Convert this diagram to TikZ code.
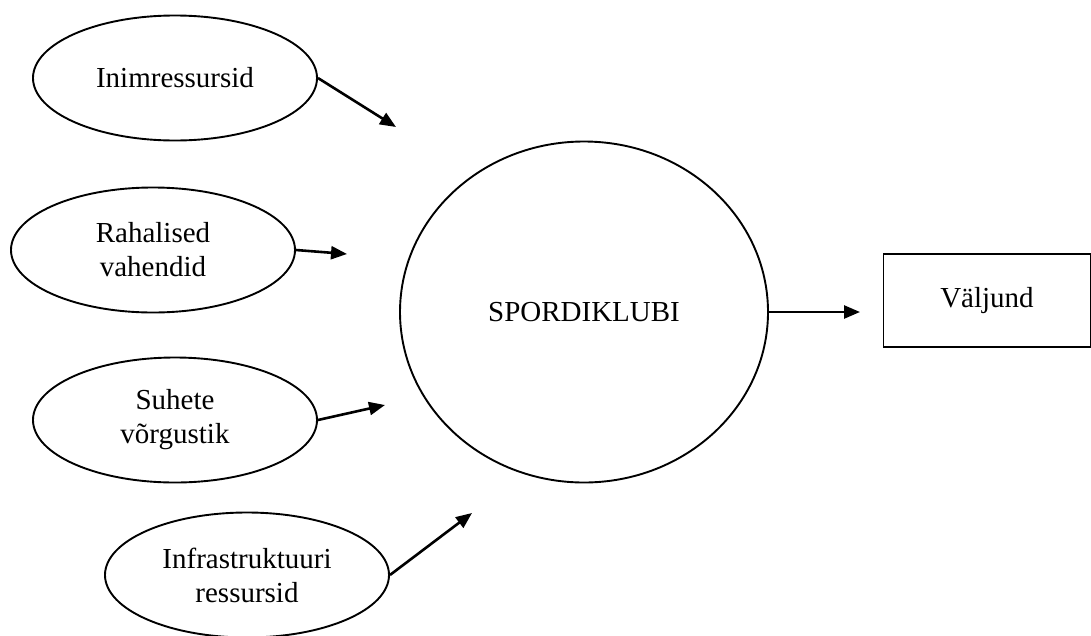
\documentclass[tikz,border=0pt]{standalone}
\usepackage{fontspec}
\setmainfont{Liberation Serif}
\usetikzlibrary{shapes.geometric,arrows.meta}
\begin{document}
\begin{tikzpicture}[x=1pt,y=-1pt,
  every node/.style={font=\fontsize{29}{34}\selectfont, align=center, inner sep=0pt},
  resource/.style={draw, line width=1.9pt, ellipse, minimum width=284pt, minimum height=125pt},
  club/.style={draw, line width=1.9pt, ellipse, minimum width=368pt, minimum height=341pt},
  outbox/.style={draw, line width=1.9pt, rectangle, minimum width=207pt, minimum height=93pt},
  flow/.style={line width=2.6pt, -{Triangle[length=16pt,width=13pt]}}]
\useasboundingbox (0,0) rectangle (1091,635);

% resource ellipses
\node[resource] (e1) at (175,78)  {Inimressursid};
\node[resource] (e2) at (153,250) {Rahalised\\vahendid};
\node[resource] (e3) at (175,420) {Suhete\\võrgustik};
\node[resource] (e4) at (247,575) {Infrastruktuuri\\ressursid};

% the club and its output
\node[club] (club) at (584,312) {SPORDIKLUBI};
\node[outbox] (out) at (987,300.5) {Väljund};

% free arrow ends
\coordinate (t1) at (396,127);
\coordinate (t2) at (347,254);
\coordinate (t3) at (385,405);
\coordinate (t4) at (472,513);
\coordinate (t5) at (860,312);

\draw[flow] (e1.east) -- (t1);
\draw[flow] (e2.east) -- (t2);
\draw[flow] (e3.east) -- (t3);
\draw[flow] (e4.east) -- (t4);
\draw[flow] (club.east) -- (t5);
\end{tikzpicture}
\end{document}
